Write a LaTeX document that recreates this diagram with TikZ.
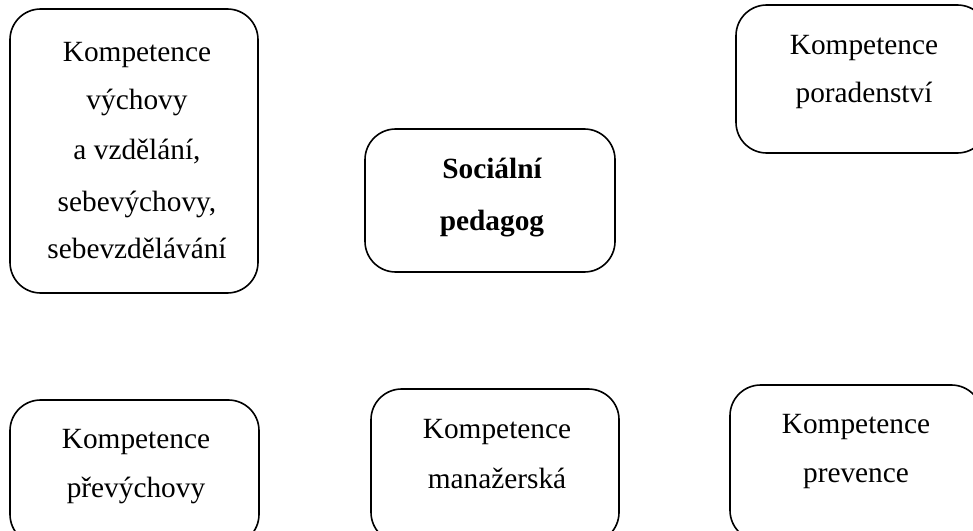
\documentclass[tikz,border=0pt]{standalone}
\usepackage{fontspec}
\setmainfont{Liberation Serif}
\begin{document}
\begin{tikzpicture}[x=0.75pt,y=-0.75pt,
  boxst/.style={draw=black,line width=1.2pt,rounded corners=23pt},
  ln/.style={anchor=base,inner sep=0pt,font=\fontsize{22pt}{26pt}\selectfont},
  lnb/.style={ln,font=\fontsize{22pt}{26pt}\selectfont\bfseries}]
\useasboundingbox (0,0) rectangle (973,531);
\clip (0,0) rectangle (973,531);
% boxes
\draw[boxst] (10,9) rectangle (258,293);
\draw[boxst] (365,129) rectangle (615,272);
\draw[boxst] (736,5) rectangle (988,153);
\draw[boxst] (10,400) rectangle (259,545);
\draw[boxst] (371,389) rectangle (619,543);
\draw[boxst] (730,385) rectangle (982,541);
% box A text
\node[ln] (a1) at (137,62) {Kompetence};
\node[ln] (a2) at (137,110) {výchovy};
\node[ln] (a3) at (137,160) {a vzdělání,};
\node[ln] (a4) at (137,211) {sebevýchovy,};
\node[ln] (a5) at (137,258) {sebevzdělávání};
% box B text
\node[lnb] (b1) at (492,178) {Sociální};
\node[lnb] (b2) at (492,230) {pedagog};
% box C text
\node[ln] (c1) at (864,55) {Kompetence};
\node[ln] (c2) at (864,103) {poradenství};
% box D text
\node[ln] (d1) at (136,448) {Kompetence};
\node[ln] (d2) at (136,497) {převýchovy};
% box E text
\node[ln] (e1) at (497,438) {Kompetence};
\node[ln] (e2) at (497,488) {manažerská};
% box F text
\node[ln] (f1) at (856,433) {Kompetence};
\node[ln] (f2) at (856,482) {prevence};
\end{tikzpicture}
\end{document}
